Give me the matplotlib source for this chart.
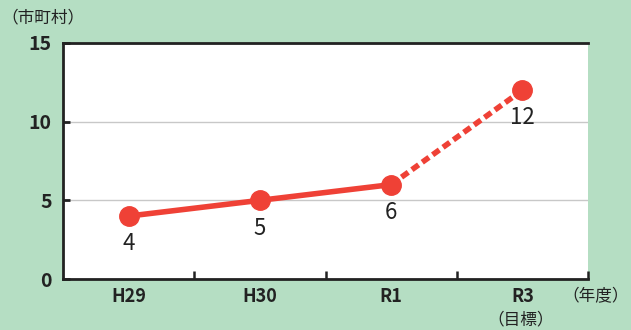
import matplotlib
matplotlib.use("Agg")
import matplotlib.pyplot as plt

plt.rcParams['font.family'] = ['Noto Sans CJK JP', 'DejaVu Sans']

categories = ["H29", "H30", "R1", "R3"]
values = [4, 5, 6, 12]
yticks = [0, 5, 10, 15]
y_unit = "（市町村）"
x_unit = "（年度）"
target_note = "（目標）"

bg = "#b5dec3"
red = "#ef4136"
ink = "#222222"

fig = plt.figure(figsize=(6.31, 3.30), dpi=100)
fig.patch.set_facecolor(bg)
ax = fig.add_axes([0.0998, 0.1545, 0.8321, 0.7152])
ax.set_facecolor("white")

x = list(range(len(categories)))
ax.plot(x[:3], values[:3], color=red, lw=4, solid_capstyle='round', zorder=3)
ax.plot(x[2:], values[2:], color=red, lw=4, ls=(0, (1.5, 0.8)), zorder=3)
ax.plot(x, values, 'o', color=red, ms=14, zorder=4)

for xi, v in zip(x, values):
    ax.annotate(str(v), (xi, v), xytext=(0, -20), textcoords='offset points',
                ha='center', va='center', fontsize=16, color=ink)

ax.set_xlim(-0.5, 3.5)
ax.set_ylim(0, 15)
ax.set_yticks(yticks)
ax.set_yticklabels([str(t) for t in yticks], fontsize=14, color=ink, fontweight='bold')
ax.yaxis.grid(True, color="#c8c8c8", lw=1)
ax.set_axisbelow(True)
ax.tick_params(axis='y', direction='in', length=5, width=2, color=ink, pad=8)

ax.set_xticks([0.5, 1.5, 2.5, 3.5])
ax.set_xticklabels([])
ax.set_xticks(x, minor=True)
ax.set_xticklabels(categories, minor=True, fontsize=13, color=ink, fontweight='bold')
ax.tick_params(axis='x', which='major', direction='in', length=6, width=1.8, color=ink)
ax.tick_params(axis='x', which='minor', length=0, pad=6)

for s in ['left', 'bottom', 'top']:
    ax.spines[s].set_color(ink)
    ax.spines[s].set_linewidth(2)
ax.spines['right'].set_visible(False)

fig.text(0.068, 0.945, y_unit, fontsize=12, ha='center', va='center', color=ink)
fig.text(0.997, 0.1, x_unit, fontsize=12, ha='right', va='center', color=ink)
fig.text(521/631, 1 - 320/330, target_note, fontsize=12, ha='center', va='center', color=ink)

fig.savefig("out.png", dpi=100, facecolor=bg)
